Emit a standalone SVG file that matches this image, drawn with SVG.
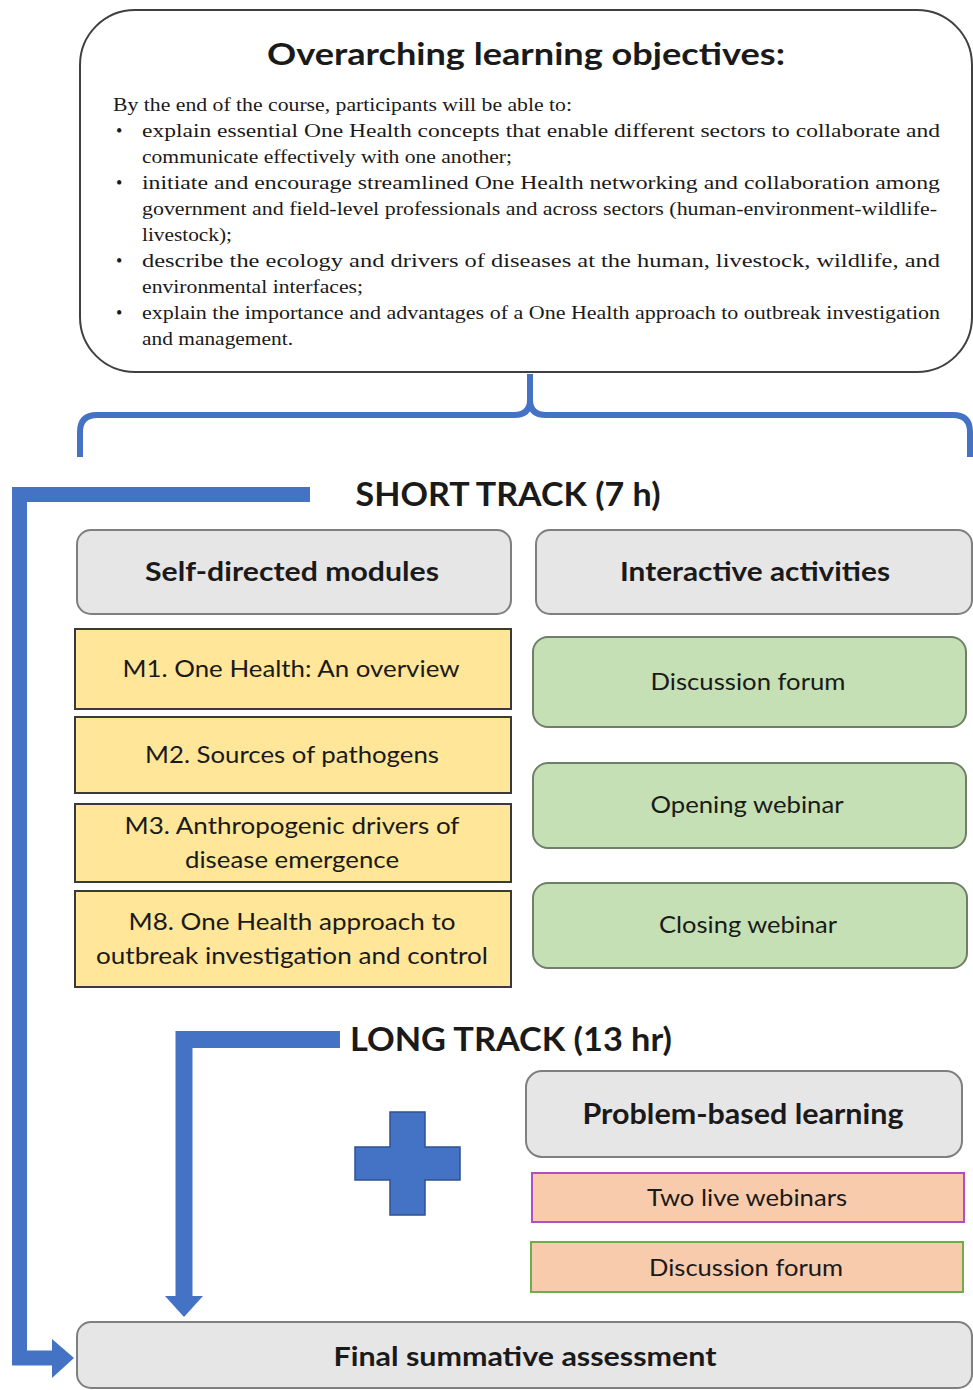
<svg xmlns="http://www.w3.org/2000/svg" width="973" height="1390" viewBox="0 0 973 1390">
<style>
.serif{font-family:"Liberation Serif","Times New Roman",serif;font-size:18px;fill:#1a1a1a}
.sans{font-family:Lato,"Open Sans","Liberation Sans",sans-serif;fill:#1a1a1a}
.b{font-weight:bold}
.gray{fill:#E7E6E6;stroke:#7F7F7F;stroke-width:2}
.yel{fill:#FFE699;stroke:#3a3a3a;stroke-width:2}
.grn{fill:#C5E0B4;stroke:#6f7f6a;stroke-width:2}
.org{fill:#F8CBAD;stroke-width:2}
.conn{fill:none;stroke:#4472C4;stroke-linejoin:miter}
.head{fill:#4472C4}
</style>
<rect width="973" height="1390" fill="#ffffff"/>

<g id="objectives">
<rect x="80" y="10" width="892" height="362" rx="55" fill="#ffffff" stroke="#404040" stroke-width="2"/>
<text class="sans b" x="526" y="65" font-size="31" text-anchor="middle" textLength="518" lengthAdjust="spacingAndGlyphs">Overarching learning objectives:</text>
<text class="serif" x="113" y="111" textLength="459" lengthAdjust="spacingAndGlyphs">By the end of the course, participants will  be able to:</text>
<text class="serif" x="116" y="137">•</text>
<text class="serif" x="142" y="137" textLength="798" lengthAdjust="spacingAndGlyphs">explain essential One Health concepts that enable different sectors to collaborate and</text>
<text class="serif" x="142" y="163" textLength="370" lengthAdjust="spacingAndGlyphs">communicate effectively with one another;</text>
<text class="serif" x="116" y="189">•</text>
<text class="serif" x="142" y="189" textLength="798" lengthAdjust="spacingAndGlyphs">initiate and encourage streamlined One Health networking and collaboration among</text>
<text class="serif" x="142" y="215" textLength="795" lengthAdjust="spacingAndGlyphs">government and field-level professionals and across sectors (human-environment-wildlife-</text>
<text class="serif" x="142" y="241" textLength="90" lengthAdjust="spacingAndGlyphs">livestock);</text>
<text class="serif" x="116" y="267">•</text>
<text class="serif" x="142" y="267" textLength="798" lengthAdjust="spacingAndGlyphs">describe the ecology and drivers of diseases at the human, livestock, wildlife, and</text>
<text class="serif" x="142" y="293" textLength="221" lengthAdjust="spacingAndGlyphs">environmental interfaces;</text>
<text class="serif" x="116" y="319">•</text>
<text class="serif" x="142" y="319" textLength="798" lengthAdjust="spacingAndGlyphs">explain the importance and advantages of a One Health approach to outbreak investigation</text>
<text class="serif" x="142" y="345" textLength="151" lengthAdjust="spacingAndGlyphs">and management.</text>
</g>

<g id="connectors">
<path class="conn" stroke-width="6" d="M80 457 V432 Q80 415 97 415 H514 Q530 415 530 400 V374 M530 400 Q530 415 546 415 H953 Q970 415 970 432 V457"/>
<path class="conn" stroke-width="15" d="M310 494.5 H19.5 V1358 H56"/>
<polygon class="head" points="52,1339 74,1358 52,1378"/>
<path class="conn" stroke-width="17" d="M340 1039.5 H184 V1300"/>
<polygon class="head" points="165,1296 203,1296 184,1317"/>
</g>

<g id="short-track-label">
<text class="sans b" x="508" y="506" font-size="33" text-anchor="middle" textLength="305" lengthAdjust="spacingAndGlyphs">SHORT TRACK (7 h)</text>
</g>

<g id="self-directed">
<rect class="gray" x="77" y="530" width="434" height="84" rx="14"/>
<text class="sans b" x="292" y="581" font-size="27" text-anchor="middle" textLength="294" lengthAdjust="spacingAndGlyphs">Self-directed modules</text>
</g>
<g id="interactive">
<rect class="gray" x="536" y="530" width="436" height="84" rx="14"/>
<text class="sans b" x="755" y="581" font-size="27" text-anchor="middle" textLength="270" lengthAdjust="spacingAndGlyphs">Interactive activities</text>
</g>

<g id="m1">
<rect class="yel" x="75" y="629" width="436" height="80"/>
<text class="sans" x="291" y="677" font-size="24" text-anchor="middle" textLength="337" lengthAdjust="spacingAndGlyphs">M1. One Health: An overview</text>
</g>
<g id="m2">
<rect class="yel" x="75" y="717" width="436" height="76"/>
<text class="sans" x="292" y="763" font-size="24" text-anchor="middle" textLength="294" lengthAdjust="spacingAndGlyphs">M2. Sources of pathogens</text>
</g>
<g id="m3">
<rect class="yel" x="75" y="804" width="436" height="78"/>
<text class="sans" x="292" y="834" font-size="24" text-anchor="middle" textLength="335" lengthAdjust="spacingAndGlyphs">M3. Anthropogenic drivers of</text>
<text class="sans" x="292" y="868" font-size="24" text-anchor="middle" textLength="214" lengthAdjust="spacingAndGlyphs">disease emergence</text>
</g>
<g id="m8">
<rect class="yel" x="75" y="891" width="436" height="96"/>
<text class="sans" x="292" y="930" font-size="24" text-anchor="middle" textLength="327" lengthAdjust="spacingAndGlyphs">M8. One Health approach to</text>
<text class="sans" x="292" y="964" font-size="24" text-anchor="middle" textLength="392" lengthAdjust="spacingAndGlyphs">outbreak investigation and control</text>
</g>

<g id="discussion-forum">
<rect class="grn" x="533" y="637" width="433" height="90" rx="15"/>
<text class="sans" x="748" y="690" font-size="24" text-anchor="middle" textLength="195" lengthAdjust="spacingAndGlyphs">Discussion forum</text>
</g>
<g id="opening-webinar">
<rect class="grn" x="533" y="763" width="433" height="85" rx="15"/>
<text class="sans" x="747" y="813" font-size="24" text-anchor="middle" textLength="193" lengthAdjust="spacingAndGlyphs">Opening  webinar</text>
</g>
<g id="closing-webinar">
<rect class="grn" x="533" y="883" width="434" height="85" rx="15"/>
<text class="sans" x="748" y="933" font-size="24" text-anchor="middle" textLength="178" lengthAdjust="spacingAndGlyphs">Closing webinar</text>
</g>

<g id="long-track-label">
<text class="sans b" x="511" y="1051" font-size="32" text-anchor="middle" textLength="322" lengthAdjust="spacingAndGlyphs">LONG TRACK (13 hr)</text>
</g>

<g id="plus">
<path d="M390 1112 H425 V1147 H460 V1180 H425 V1215 H390 V1180 H355 V1147 H390 Z" fill="#4472C4" stroke="#2F528F" stroke-width="1.5"/>
</g>

<g id="pbl">
<rect class="gray" x="526" y="1071" width="436" height="86" rx="16"/>
<text class="sans b" x="743" y="1124" font-size="28" text-anchor="middle" textLength="321" lengthAdjust="spacingAndGlyphs">Problem-based learning</text>
</g>
<g id="two-live-webinars">
<rect class="org" x="532" y="1173" width="432" height="49" stroke="#B050C0"/>
<text class="sans" x="747" y="1206" font-size="24" text-anchor="middle" textLength="200" lengthAdjust="spacingAndGlyphs">Two live webinars</text>
</g>
<g id="pbl-discussion-forum">
<rect class="org" x="531" y="1242" width="432" height="50" stroke="#70AD47"/>
<text class="sans" x="746" y="1276" font-size="24" text-anchor="middle" textLength="194" lengthAdjust="spacingAndGlyphs">Discussion forum</text>
</g>

<g id="final-assessment">
<rect class="gray" x="77" y="1322" width="895" height="66" rx="14"/>
<text class="sans b" x="525" y="1366" font-size="26" text-anchor="middle" textLength="383" lengthAdjust="spacingAndGlyphs">Final summative assessment</text>
</g>
</svg>
